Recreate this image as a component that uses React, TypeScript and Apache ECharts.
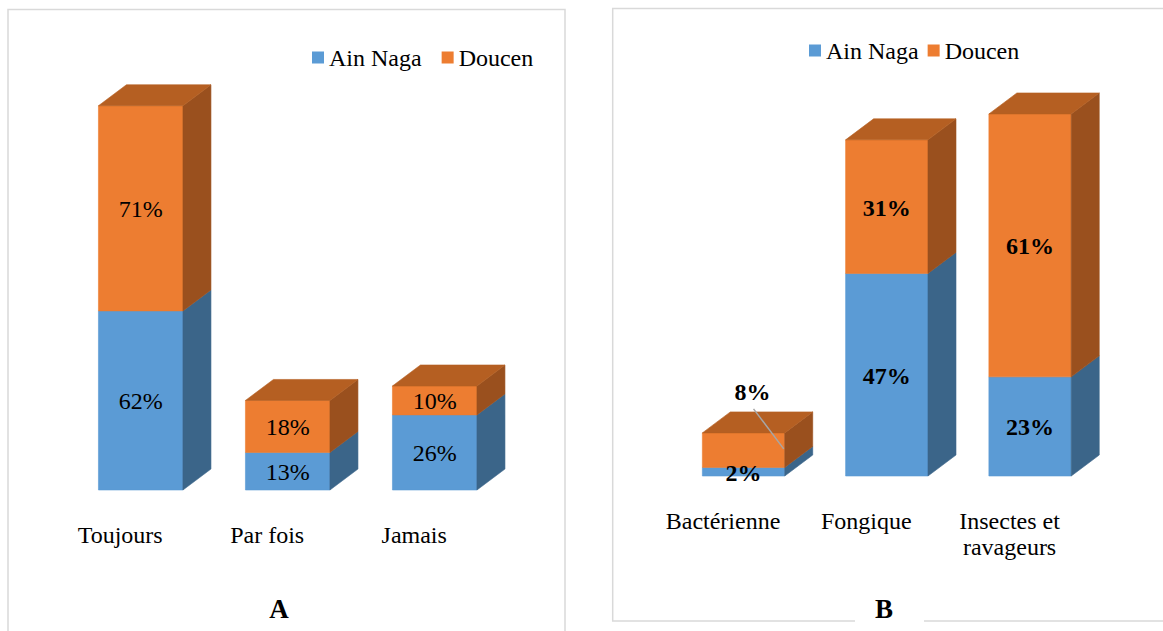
import { useEffect, useRef } from "react";
import * as echarts from "echarts";

// Series and categories of the two panels
const SERIES_NAMES = ["Ain Naga", "Doucen"];

const CATEGORIES_A = ["Toujours", "Par fois", "Jamais"];
const AIN_NAGA_A = [62, 13, 26];
const DOUCEN_A = [71, 18, 10];

const CATEGORIES_B = ["Bactérienne", "Fongique", "Insectes et\nravageurs"];
const AIN_NAGA_B = [2, 47, 23];
const DOUCEN_B = [8, 31, 61];

const PANEL_TITLES = ["A", "B"];

// Category of panel B whose Doucen label sits above the box with a leader line
const CALLOUT_B = "Bactérienne";

const FONT = "'Liberation Serif', 'Times New Roman', Times, serif";
const FRONT = ["#5B9BD5", "#ED7D31"];
const SIDE = ["#3B6589", "#9A501E"];
const TOP = ["#4A7FB0", "#B55F22"];
const DEPTH_X = 28;
const DEPTH_Y = 21;
const BAR_RATIO = 0.575;

function makeBoxRenderer(colorIdx: number, isTop: boolean, bold: boolean, calloutIdx: number) {
  return (params: any, api: any) => {
    const cat = api.value(0);
    const base = api.value(1);
    const val = api.value(2);
    const p0 = api.coord([cat, base]);
    const p1 = api.coord([cat, base + val]);
    const band = api.size([1, 0])[0];
    const w = band * BAR_RATIO;
    const cx = p0[0];
    const x0 = cx - w / 2;
    const x1 = cx + w / 2;
    const yb = p0[1];
    const yt = p1[1];
    const edge = { lineWidth: 0.6, lineJoin: "miter" };
    const children: any[] = [
      {
        type: "polygon",
        shape: { points: [[x0, yb], [x1, yb], [x1, yt], [x0, yt]] },
        style: { fill: FRONT[colorIdx], stroke: FRONT[colorIdx], ...edge },
      },
      {
        type: "polygon",
        shape: {
          points: [
            [x1, yb],
            [x1 + DEPTH_X, yb - DEPTH_Y],
            [x1 + DEPTH_X, yt - DEPTH_Y],
            [x1, yt],
          ],
        },
        style: { fill: SIDE[colorIdx], stroke: SIDE[colorIdx], ...edge },
      },
    ];
    if (isTop) {
      children.push({
        type: "polygon",
        shape: {
          points: [
            [x0, yt],
            [x0 + DEPTH_X, yt - DEPTH_Y],
            [x1 + DEPTH_X, yt - DEPTH_Y],
            [x1, yt],
          ],
        },
        style: { fill: TOP[colorIdx], stroke: TOP[colorIdx], ...edge },
      });
    }
    const labelStyle = {
      text: `${val}%`,
      fill: "#000",
      fontFamily: FONT,
      fontSize: 24,
      fontWeight: bold ? "bold" : "normal",
      align: "center",
      verticalAlign: "middle",
    };
    if (cat === calloutIdx) {
      children.push({
        type: "line",
        shape: { x1: cx + 10, y1: yt - 24, x2: x1 - 1, y2: yt + 16 },
        style: { stroke: "#A6A6A6", lineWidth: 1.5 },
        z2: 10,
      });
      children.push({ type: "text", x: cx + 9, y: yt - 41, style: labelStyle, z2: 11 });
    } else {
      children.push({ type: "text", x: cx, y: (yb + yt) / 2 + 1, style: labelStyle, z2: 11 });
    }
    return { type: "group", children };
  };
}

function panelSeries(
  gridIndex: number,
  ain: number[],
  dou: number[],
  bold: boolean,
  calloutIdx: number
) {
  const lower = ain.map((v, i) => [i, 0, v]);
  const upper = dou.map((v, i) => [i, ain[i], v]);
  return [
    {
      type: "custom",
      name: SERIES_NAMES[0],
      xAxisIndex: gridIndex,
      yAxisIndex: gridIndex,
      itemStyle: { color: FRONT[0] },
      encode: { x: 0, y: 2 },
      clip: false,
      renderItem: makeBoxRenderer(0, false, bold, -1),
      data: lower,
    },
    {
      type: "custom",
      name: SERIES_NAMES[1],
      xAxisIndex: gridIndex,
      yAxisIndex: gridIndex,
      itemStyle: { color: FRONT[1] },
      encode: { x: 0, y: 2 },
      clip: false,
      renderItem: makeBoxRenderer(1, true, bold, calloutIdx),
      data: upper,
    },
  ];
}

function categoryAxis(gridIndex: number, data: string[]) {
  return {
    type: "category",
    gridIndex,
    data,
    axisLine: { show: false },
    axisTick: { show: false },
    axisLabel: {
      color: "#000",
      fontFamily: FONT,
      fontSize: 24,
      lineHeight: 26,
      margin: 32,
      padding: [0, 41, 0, 0],
      interval: 0,
    },
  };
}

function valueAxis(gridIndex: number, max: number) {
  return {
    type: "value",
    gridIndex,
    min: 0,
    max,
    show: false,
    splitLine: { show: false },
  };
}

export default function App() {
  const ref = useRef<HTMLDivElement>(null);

  useEffect(() => {
    if (!ref.current) return;
    const chart = echarts.init(ref.current, undefined, { renderer: "svg" });
    const border = { stroke: "#D9D9D9", lineWidth: 1.5, fill: "none" };
    const titleStyle = (text: string) => ({
      text,
      fontFamily: FONT,
      fontSize: 27,
      fontWeight: "bold",
      fill: "#000",
      align: "center",
      verticalAlign: "middle",
    });
    chart.setOption({
      animation: false,
      backgroundColor: "#fff",
      legend: [
        {
          data: SERIES_NAMES,
          left: 312,
          top: 45,
          padding: 0,
          itemWidth: 12,
          itemHeight: 12,
          itemGap: 20,
          icon: "rect",
          selectedMode: false,
          textStyle: { fontFamily: FONT, fontSize: 24, color: "#000", lineHeight: 25 },
        },
        {
          data: SERIES_NAMES,
          left: 809,
          top: 38,
          padding: 0,
          itemWidth: 12,
          itemHeight: 12,
          itemGap: 9,
          icon: "rect",
          selectedMode: false,
          textStyle: { fontFamily: FONT, fontSize: 24, color: "#000", lineHeight: 25 },
        },
      ],
      grid: [
        { left: 67.2, width: 441, top: 490 - 2.889 * 140, height: 2.889 * 140 },
        { left: 671.9, width: 429.8, top: 476 - 4.31 * 100, height: 4.31 * 100 },
      ],
      xAxis: [categoryAxis(0, CATEGORIES_A), categoryAxis(1, CATEGORIES_B)],
      yAxis: [valueAxis(0, 140), valueAxis(1, 100)],
      series: [
        ...panelSeries(0, AIN_NAGA_A, DOUCEN_A, false, -1),
        ...panelSeries(1, AIN_NAGA_B, DOUCEN_B, true, CATEGORIES_B.indexOf(CALLOUT_B)),
      ],
      graphic: {
        elements: [
          { type: "rect", shape: { x: 8, y: 9.5, width: 557, height: 640 }, style: border, z: 0 },
          { type: "rect", shape: { x: 612.7, y: 8.5, width: 600, height: 612.5 }, style: border, z: 0 },
          {
            type: "rect",
            shape: { x: 855, y: 600, width: 69, height: 30 },
            style: { fill: "#fff" },
            z: 1,
          },
          { type: "text", x: 279, y: 609, style: titleStyle(PANEL_TITLES[0]), z: 2 },
          { type: "text", x: 884, y: 609, style: titleStyle(PANEL_TITLES[1]), z: 2 },
        ],
      },
    });
    return () => chart.dispose();
  }, []);

  return (
    <div
      ref={ref}
      style={{ position: "fixed", left: 0, top: 0, width: 1163, height: 631 }}
    />
  );
}
